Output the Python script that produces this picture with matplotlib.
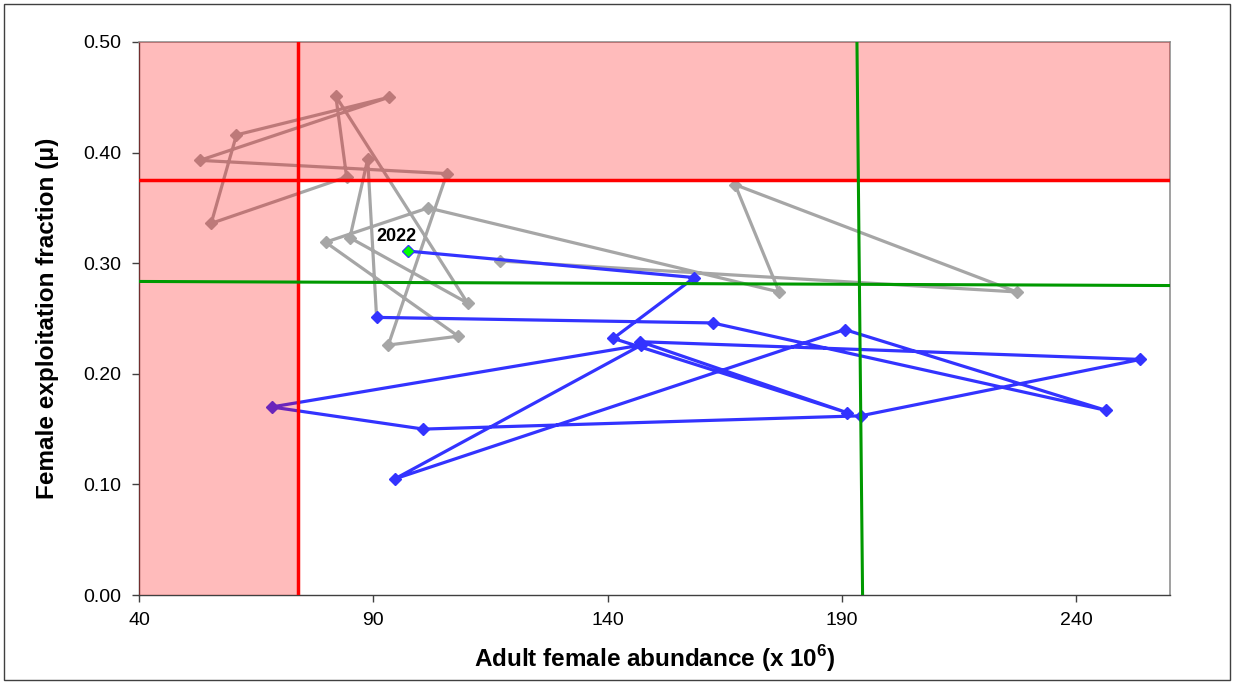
#!/usr/bin/env python3
"""
Female exploitation fraction vs adult female abundance (control rule plot).
"""

import matplotlib
matplotlib.use('Agg')
import matplotlib.pyplot as plt
from matplotlib.patches import Rectangle

plt.rcParams['font.family'] = ['Liberation Sans', 'DejaVu Sans']
plt.rcParams['mathtext.fontset'] = 'custom'
plt.rcParams['mathtext.rm'] = 'Liberation Sans'
plt.rcParams['mathtext.bf'] = 'Liberation Sans:bold'

# Data (abundance in millions, exploitation fraction)
years_early = list(range(1990, 2008))
abund_early = [117.0, 227.3, 167.2, 176.6, 101.7, 79.8, 108.1, 93.2, 105.7,
               53.0, 93.3, 60.8, 55.4, 84.3, 82.0, 110.1, 85.0, 88.8]
mu_early = [0.302, 0.274, 0.371, 0.274, 0.350, 0.319, 0.234, 0.226, 0.381,
            0.393, 0.450, 0.416, 0.336, 0.378, 0.451, 0.264, 0.323, 0.394]

years_recent = list(range(2008, 2023))
abund_recent = [90.7, 162.4, 246.3, 190.6, 94.6, 147.2, 68.3, 100.7, 194.0,
                253.7, 147.0, 191.0, 141.2, 158.5, 97.3]
mu_recent = [0.251, 0.246, 0.167, 0.240, 0.105, 0.226, 0.170, 0.150, 0.162,
             0.213, 0.229, 0.165, 0.232, 0.287, 0.311]

# Reference points
abund_threshold = 73.9
mu_threshold = 0.375
target_h_x = [40, 260]
target_h_y = [0.2835, 0.2798]
target_v_x = [193.2, 194.4]
target_v_y = [0.50, 0.00]

xlim = (40, 260)
ylim = (0.0, 0.5)
xticks = [40, 90, 140, 190, 240]
yticks = [0.0, 0.1, 0.2, 0.3, 0.4, 0.5]

fig = plt.figure(figsize=(12.35, 6.83), dpi=100)
ax = fig.add_axes([139 / 1235, 1 - 595 / 683, (1170 - 139) / 1235, (595 - 42) / 683])

# early years (grey), joined to the first recent year
ax.plot(abund_early + abund_recent[:1], mu_early + mu_recent[:1],
        color='#a6a6a6', lw=2.3, zorder=2)
ax.plot(abund_early, mu_early, ls='none', marker='D', ms=6.3,
        color='#a6a6a6', zorder=2)

# recent years (blue)
ax.plot(abund_recent, mu_recent, color='#3333ff', lw=2.3, marker='D', ms=6.3,
        zorder=2.2)

# shaded overfished / overfishing zone
zone_x = [xlim[0], abund_threshold, abund_threshold, xlim[1], xlim[1], xlim[0]]
zone_y = [ylim[0], ylim[0], mu_threshold, mu_threshold, ylim[1], ylim[1]]
ax.fill(zone_x, zone_y, color='red', alpha=0.267, lw=0, zorder=3)

# thresholds (red) and targets (green)
ax.axhline(mu_threshold, color='#ff0000', lw=2.5, zorder=4)
ax.axvline(abund_threshold, color='#ff0000', lw=2.5, zorder=4)
ax.plot(target_h_x, target_h_y, color='#009900', lw=2.2, zorder=4)
ax.plot(target_v_x, target_v_y, color='#009900', lw=2.2, zorder=4)

# latest year highlighted
ax.plot(abund_recent[-1], mu_recent[-1], marker='D', ms=6.5, color='#00ff00',
        mec='#3333ff', mew=0.6, ls='none', zorder=5)
ax.annotate(str(years_recent[-1]), (abund_recent[-1], mu_recent[-1]),
            xytext=(-8, 4), textcoords='offset points', ha='center', va='bottom',
            fontsize=13, fontweight='bold', zorder=6)

ax.set_xlim(xlim)
ax.set_ylim(ylim)
ax.set_xticks(xticks)
ax.set_yticks(yticks)
ax.set_yticklabels([f'{v:.2f}' for v in yticks])
ax.tick_params(axis='both', direction='out', length=5, width=1, labelsize=14,
               color='#404040', pad=7.5)

for side in ['left', 'bottom']:
    ax.spines[side].set_color('#404040')
    ax.spines[side].set_linewidth(1)
for side in ['right', 'top']:
    ax.spines[side].set_color('#909090')
    ax.spines[side].set_linewidth(1.2)

ax.set_xlabel('Adult female abundance (x 10$^{\\mathbf{6}}$)', fontsize=17.5,
              fontweight='bold', labelpad=10)
ax.set_ylabel('Female exploitation fraction (\u03bc)', fontsize=17.5,
              fontweight='bold', labelpad=18)

# thin frame around the whole picture
fig.patches.append(Rectangle((4 / 1235, 3 / 683), 1 - 9 / 1235, 1 - 7 / 683,
                             transform=fig.transFigure, fill=False,
                             edgecolor='#404040', lw=1))

fig.savefig('out.png', dpi=100)
